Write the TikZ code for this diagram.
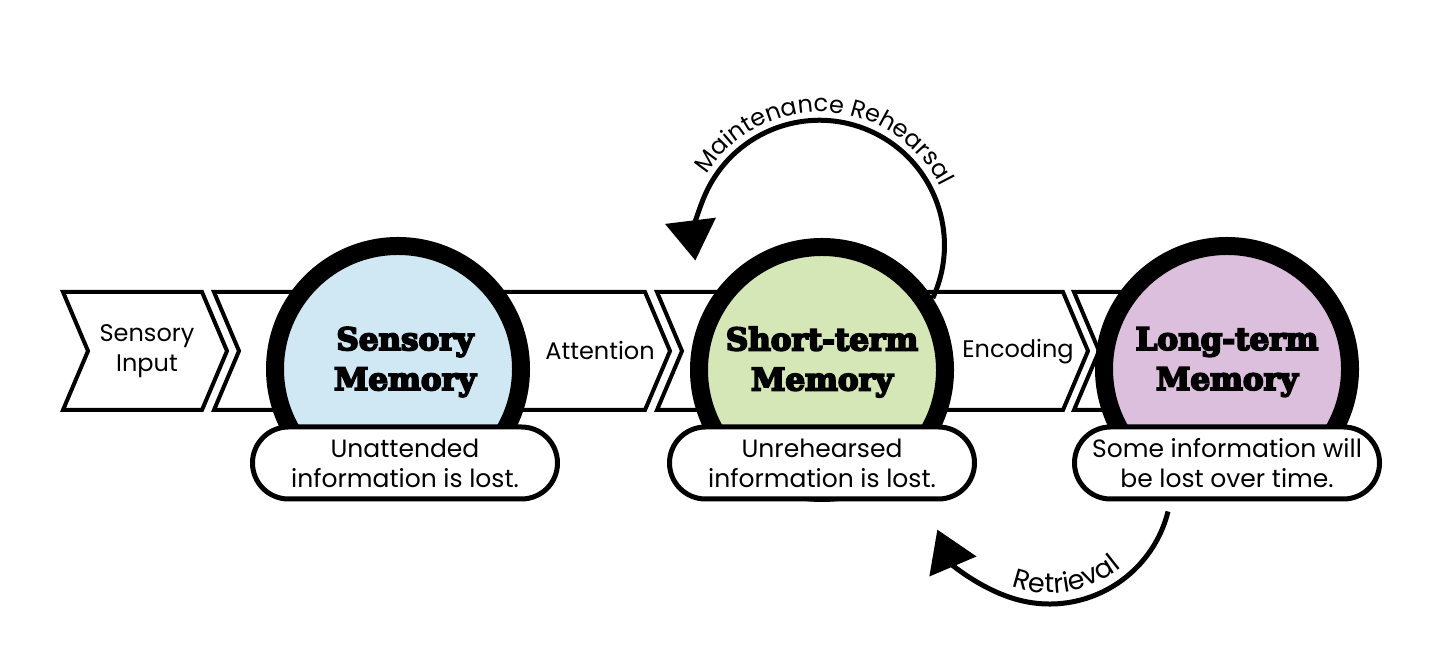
\documentclass[tikz,border=0pt]{standalone}
\usepackage{fontspec}
\setmainfont{Poppins}
\newfontfamily\titlefont{DejaVu Serif}[FakeBold=6]
\usetikzlibrary{positioning,arrows.meta,decorations.text}
\definecolor{sensblue}{RGB}{208,232,243}
\definecolor{shortgreen}{RGB}{213,230,183}
\definecolor{longpurple}{RGB}{219,191,220}
\newcommand{\arcfont}{\fontsize{24}{28}\selectfont}

\begin{document}
\begin{tikzpicture}[x=1pt,y=1pt,
    chev/.style={draw,line width=4pt,fill=white},
    memory/.style={circle,draw,line width=18pt,minimum size=246pt,inner sep=0pt},
    heading/.style={font=\titlefont\bfseries\fontsize{31}{40}\selectfont,align=center},
    lost/.style={draw,fill=white,line width=5pt,rounded corners=36pt,minimum width=305pt,
                 minimum height=72pt,inner sep=0pt,align=center,font=\fontsize{25}{30}\selectfont},
    flow/.style={font=\fontsize{24}{30}\selectfont,align=center},
    rehearse/.style={line width=5pt,-{Triangle[length=40pt,width=50pt]}}]
  \useasboundingbox (0,0) rectangle (1431,660);

  % chevron band
  \foreach \xl/\xr in {63/202,214/645,657/1063,1074/1290}
    \draw[chev] (\xl,368) -- (\xr,368) -- (\xr+25,309) -- (\xr,250)
                -- (\xl,250) -- (\xl+25,309) -- cycle;

  \node[flow] (input) at (147,309) {Sensory\\Input};
  \node[flow] (attn)  at (600,310) {Attention};
  \node[flow] (enc)   at (1018,308) {Encoding};

  % stores
  \node[memory,fill=sensblue]   (sens)  at (398,291) {};
  \node[memory,fill=shortgreen] (short) at (822,290) {};
  \node[memory,fill=longpurple] (long)  at (1227,291) {};

  \node[heading] (senstitle)  at (405,298) {Sensory\\Memory};
  \node[heading] (shorttitle) at (822,298) {Short-term\\Memory};
  \node[heading] (longtitle)  at (1227,298) {Long-term\\Memory};

  \node[lost] (senslost)  at (405,197)  {Unattended\\information is lost.};
  \node[lost] (shortlost) at (822,197)  {Unrehearsed\\information is lost.};
  \node[lost] (longlost)  at (1227,197) {Some information will\\be lost over time.};

  % maintenance rehearsal loop
  \coordinate (rc) at (820,414);
  \draw[rehearse] (short.33) arc[start angle=-25,end angle=187,radius=125];
  \path[decorate,decoration={text along path,text align=center,
        text={|\arcfont|Maintenance Rehearsal}}]
    (rc) ++(160:134) arc[start angle=160,end angle=14,radius=134];

  % retrieval
  \coordinate (rt) at (1050,178);
  \draw[rehearse] ([shift={(-59,-10)}]longlost.south) arc[start angle=-14,end angle=-157,radius=122];
  \path[decorate,decoration={text along path,text align=center,
        text={|\fontsize{27}{30}\selectfont|Retrieval}}]
    (rt) ++(-130:111) arc[start angle=-130,end angle=-30,radius=111];
\end{tikzpicture}
\end{document}
